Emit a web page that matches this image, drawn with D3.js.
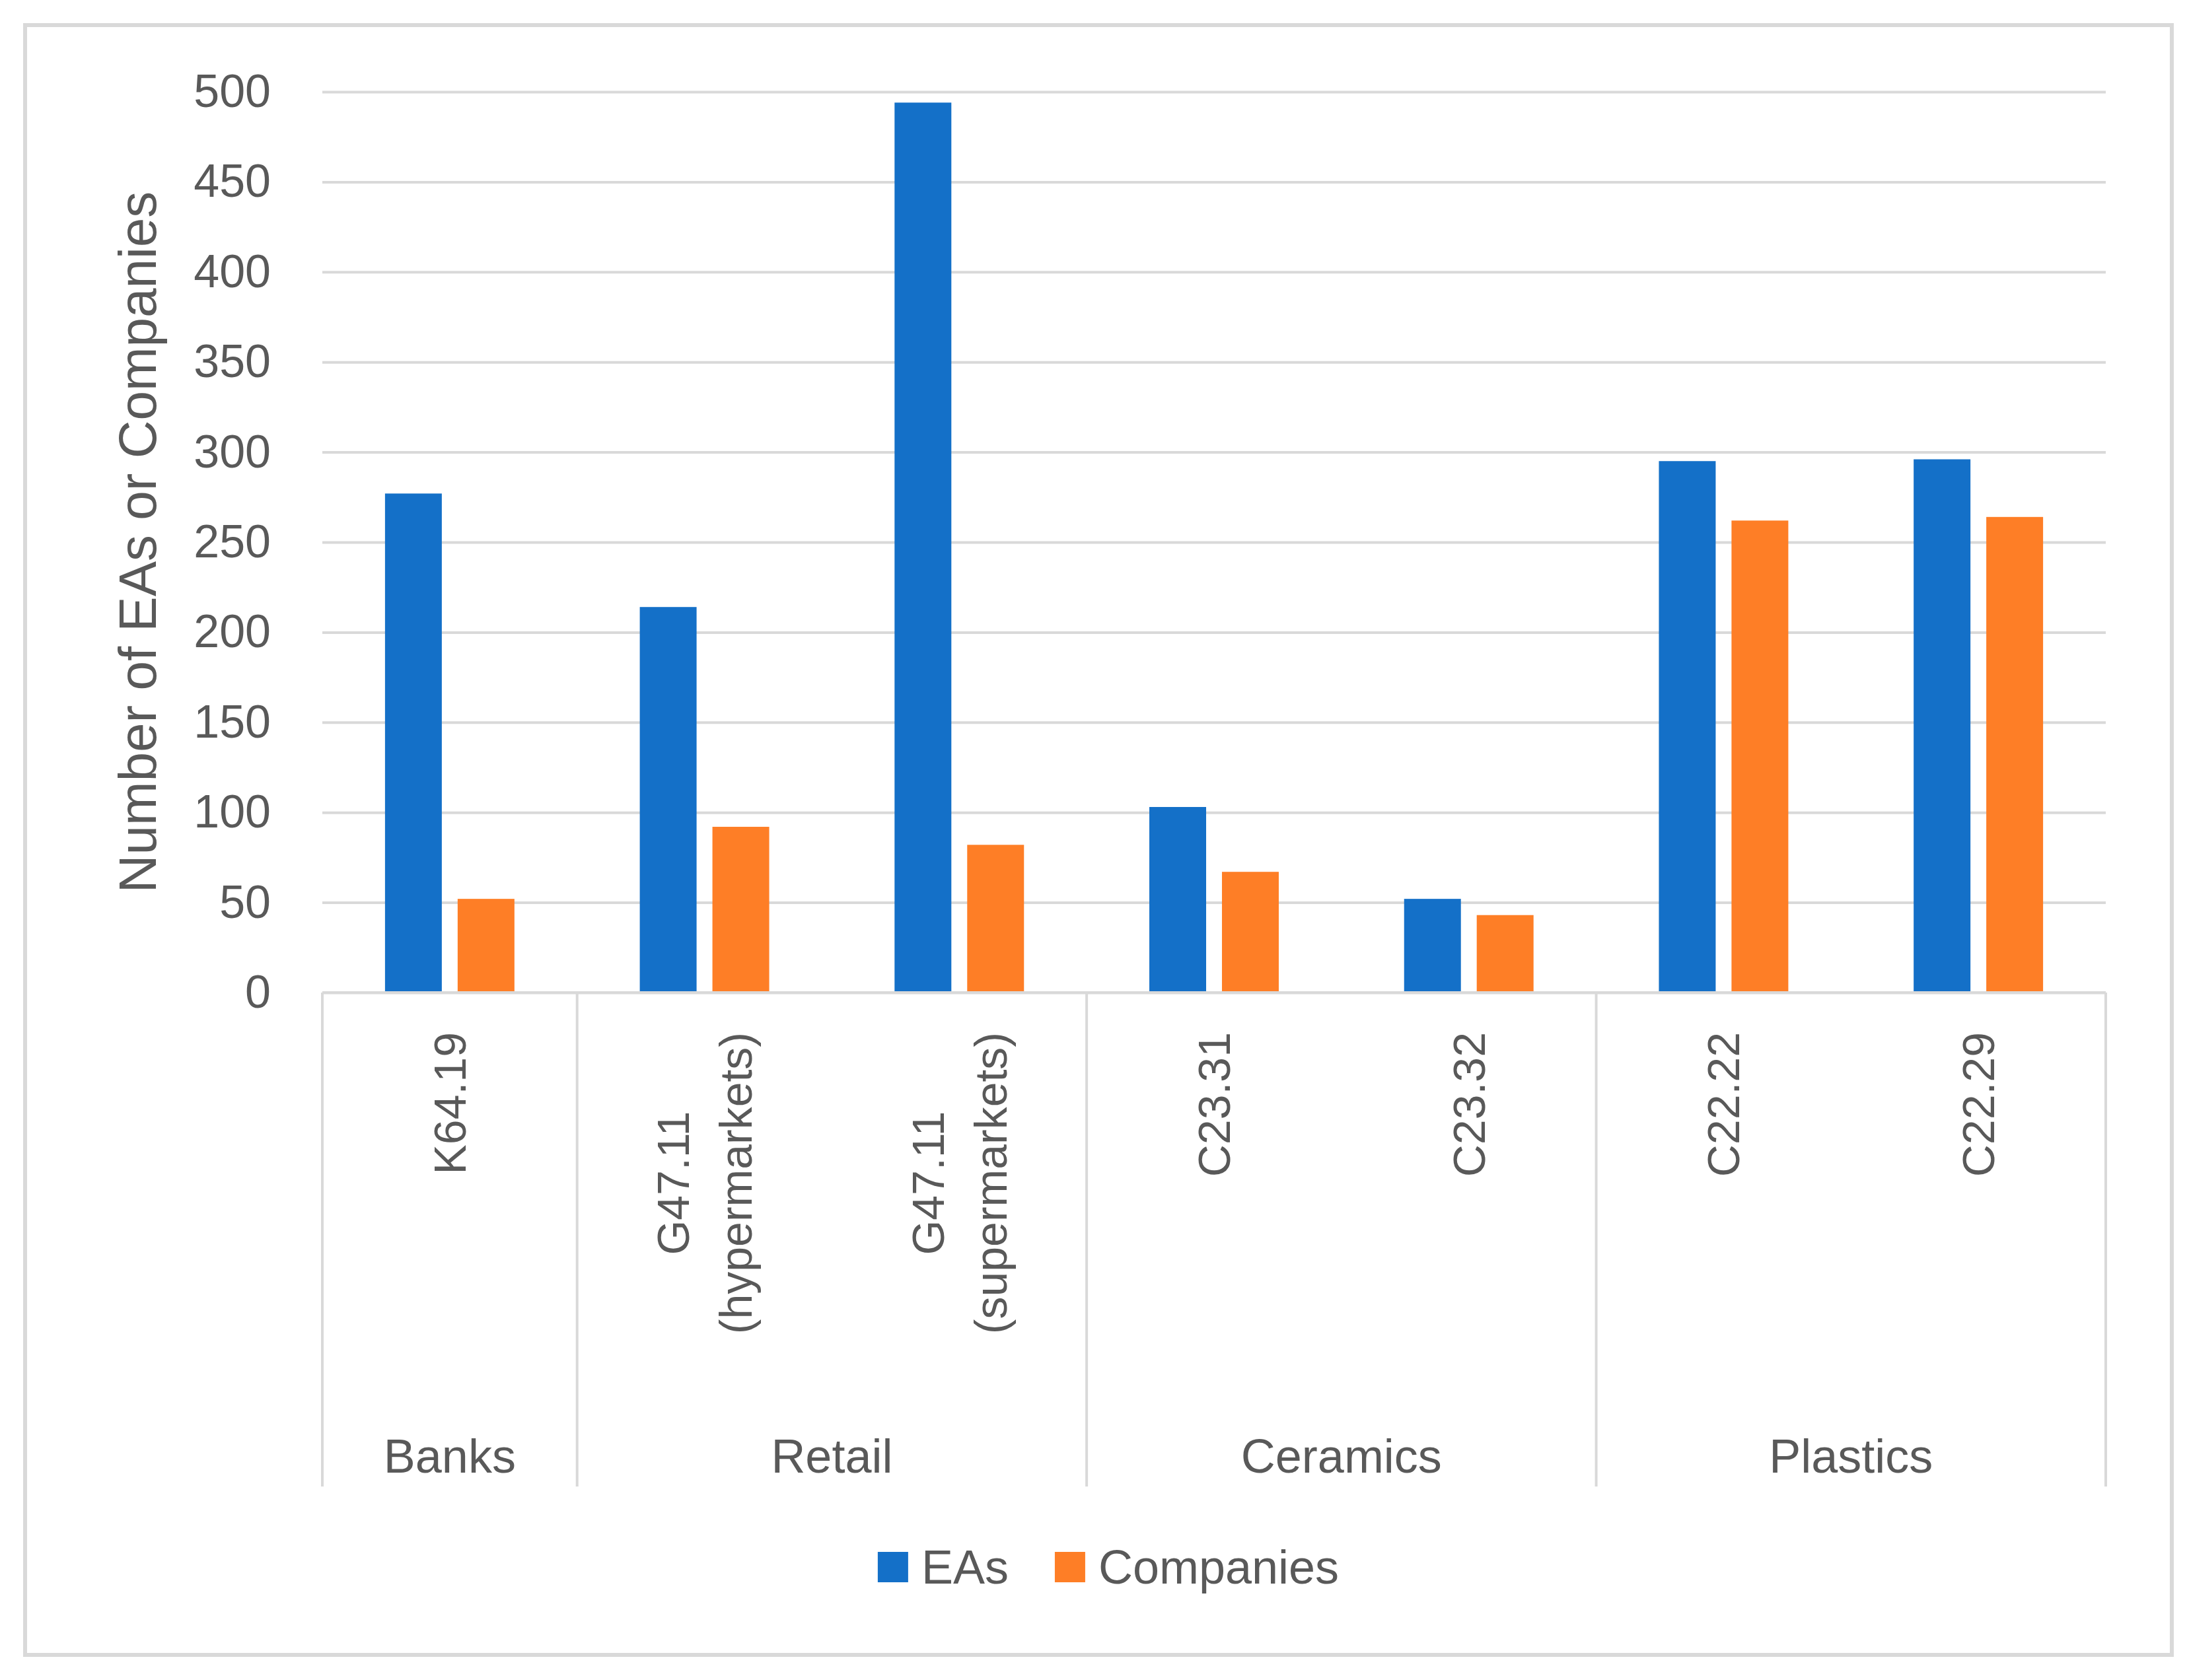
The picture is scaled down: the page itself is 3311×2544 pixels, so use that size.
<!DOCTYPE html>
<html>
<head>
<meta charset="utf-8">
<script src="https://cdn.jsdelivr.net/npm/d3@7"></script>
<style>
	html, body { margin: 0; padding: 0; background: #fff; }
	text { font-family: "Liberation Sans", Arial, sans-serif; fill: #595959; }
</style>
</head>
<body>
<div id="chart"></div>
<script>
// data
var categories = ["K64.19", "G47.11 (hypermarkets)", "G47.11 (supermarkets)", "C23.31", "C23.32", "C22.22", "C22.29"];
var categoryLines = [["K64.19"], ["G47.11", "(hypermarkets)"], ["G47.11", "(supermarkets)"], ["C23.31"], ["C23.32"], ["C22.22"], ["C22.29"]];
var categoryGroup = ["Banks", "Retail", "Retail", "Ceramics", "Ceramics", "Plastics", "Plastics"];
var groups = ["Banks", "Retail", "Ceramics", "Plastics"];
var seriesNames = ["EAs", "Companies"];
var eas = [277, 214, 494, 103, 52, 295, 296];
var companies = [52, 92, 82, 67, 43, 262, 264];
var yTicks = [0, 50, 100, 150, 200, 250, 300, 350, 400, 450, 500];
var yTitle = "Number of EAs or Companies";

(function(){

	var w = 3311;
	var h = 2544;

	var colors = { "EAs": "#1470c8", "Companies": "#fe7e26" };
	var gridColor = "#d9d9d9";

	var left = 488, right = 3188, top = 139, bottom = 1503;

	var svg = d3.select("#chart")
		.append("svg")
		.attr("width", w)
		.attr("height", h);

	svg.append("rect")
		.attr("width", w).attr("height", h)
		.attr("fill", "#fff");

	// outer frame
	svg.append("rect")
		.attr("x", 38).attr("y", 38)
		.attr("width", 3288 - 38).attr("height", 2506 - 38)
		.attr("fill", "none")
		.attr("stroke", gridColor)
		.attr("stroke-width", 6);

	var xscale = d3.scaleBand()
		.domain(categories)
		.range([left, right])
		.padding(0);

	var bw = xscale.bandwidth();
	var inner = d3.scaleBand()
		.domain(seriesNames)
		.range([bw * 0.246, bw * 0.754])
		.paddingInner(0.218)
		.paddingOuter(0);

	var yscale = d3.scaleLinear()
		.domain([0, 500])
		.range([bottom, top]);

	// gridlines + y tick labels
	var yaxis = d3.axisLeft(yscale)
		.tickValues(yTicks)
		.tickSize(-(right - left))
		.tickPadding(78);

	var gY = svg.append("g")
		.attr("transform", "translate(" + left + ",0)")
		.call(yaxis);
	gY.select(".domain").remove();
	gY.selectAll(".tick line")
		.attr("stroke", gridColor)
		.attr("stroke-width", 4);
	gY.selectAll(".tick text")
		.attr("font-size", 70)
		.attr("fill", "#595959")
		.style("font-family", "'Liberation Sans', Arial, sans-serif");

	// y title
	svg.append("text")
		.attr("transform", "translate(208," + ((top + bottom) / 2) + ") rotate(-90)")
		.attr("text-anchor", "middle")
		.attr("dominant-baseline", "central")
		.attr("font-size", 80)
		.text(yTitle);

	// bars
	var rows = categories.map(function(c, i){ return { cat: c, EAs: eas[i], Companies: companies[i] }; });

	var gBars = svg.append("g");
	seriesNames.forEach(function(s){
		gBars.selectAll("rect.s-" + s)
			.data(rows)
			.enter().append("rect")
			.attr("class", "s-" + s)
			.attr("x", function(d){ return xscale(d.cat) + inner(s); })
			.attr("width", inner.bandwidth())
			.attr("y", function(d){ return yscale(d[s]); })
			.attr("height", function(d){ return bottom - yscale(d[s]); })
			.attr("fill", colors[s]);
	});

	// category axis line
	var axisBottomY = 2251;
	svg.append("line")
		.attr("x1", left).attr("x2", right)
		.attr("y1", bottom).attr("y2", bottom)
		.attr("stroke", gridColor).attr("stroke-width", 4);

	// group separators and group labels
	var groupSpans = groups.map(function(g){
		var idx = categories.filter(function(c, i){ return categoryGroup[i] == g; });
		var x0 = xscale(idx[0]);
		var x1 = xscale(idx[idx.length - 1]) + bw;
		return { name: g, x0: x0, x1: x1 };
	});
	var seps = [left].concat(groupSpans.map(function(d){ return d.x1; }));
	svg.selectAll("line.sep")
		.data(seps)
		.enter().append("line")
		.attr("class", "sep")
		.attr("x1", function(d){ return d; }).attr("x2", function(d){ return d; })
		.attr("y1", bottom).attr("y2", axisBottomY)
		.attr("stroke", gridColor).attr("stroke-width", 4);

	svg.selectAll("text.group")
		.data(groupSpans)
		.enter().append("text")
		.attr("class", "group")
		.attr("x", function(d){ return (d.x0 + d.x1) / 2; })
		.attr("y", 2230)
		.attr("text-anchor", "middle")
		.attr("font-size", 72)
		.text(function(d){ return d.name; });

	// rotated category labels, top aligned, lines centred
	var labelTop = 1563;
	var lineH = 95;
	categories.forEach(function(c, i){
		var lines = categoryLines[i];
		var cx = xscale(c) + bw / 2;
		var g = svg.append("g");
		var t = g.append("text")
			.attr("text-anchor", "middle")
			.attr("dominant-baseline", "central")
			.attr("font-size", 68);
		lines.forEach(function(l, j){
			t.append("tspan")
				.attr("x", 0)
				.attr("y", (j - (lines.length - 1) / 2) * lineH)
				.text(l);
		});
		var maxLen = 0;
		t.selectAll("tspan").each(function(){
			maxLen = Math.max(maxLen, this.getComputedTextLength());
		});
		g.attr("transform", "translate(" + cx + "," + (labelTop + maxLen / 2) + ") rotate(-90)");
	});

	// legend
	var legend = svg.append("g");
	var sw = 46, gapText = 20, gapItem = 70;
	var xpos = 0;
	seriesNames.forEach(function(s, i){
		var item = legend.append("g").attr("transform", "translate(" + xpos + ",0)");
		item.append("rect")
			.attr("x", 0).attr("y", -sw / 2)
			.attr("width", sw).attr("height", sw)
			.attr("fill", colors[s]);
		var tx = item.append("text")
			.attr("x", sw + gapText)
			.attr("y", 0)
			.attr("dominant-baseline", "central")
			.attr("font-size", 72)
			.text(s);
		xpos += sw + gapText + tx.node().getComputedTextLength() + gapItem;
	});
	var legendW = xpos - gapItem;
	legend.attr("transform", "translate(" + (1678 - legendW / 2) + ",2373)");

})();
</script>
</body>
</html>
